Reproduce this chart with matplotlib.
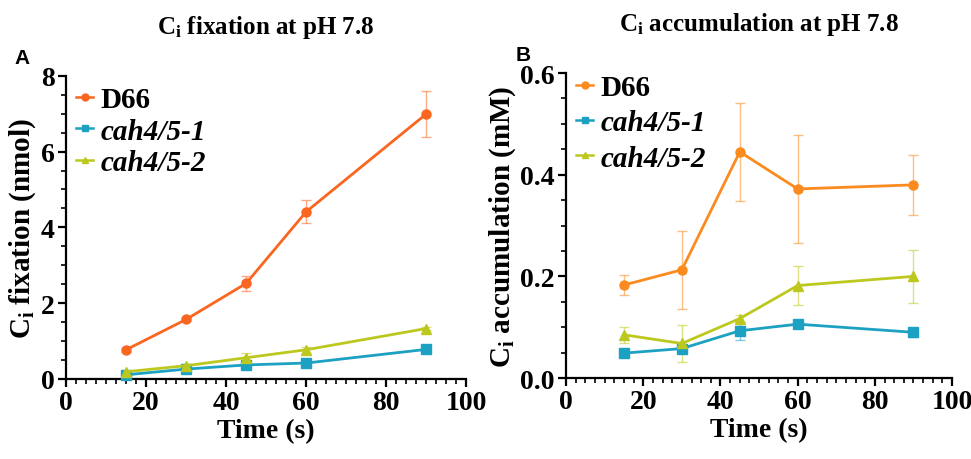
import matplotlib
matplotlib.use('Agg')
import matplotlib.pyplot as plt
from matplotlib.ticker import MultipleLocator
from matplotlib.lines import Line2D

plt.rcParams['font.family'] = 'Liberation Serif'
plt.rcParams['font.weight'] = 'bold'
plt.rcParams['mathtext.fontset'] = 'custom'
plt.rcParams['mathtext.rm'] = 'Liberation Serif:bold'
plt.rcParams['mathtext.it'] = 'Liberation Serif:bold'
plt.rcParams['mathtext.bf'] = 'Liberation Serif:bold'

# ── data ─────────────────────────────────────────────────────────────────────
time_s = [15, 30, 45, 60, 90]
series_names = ['D66', 'cah4/5-1', 'cah4/5-2']

# panel A: Ci fixation (nmol)
fix_d66 = [0.77, 1.57, 2.52, 4.41, 6.99]
fix_d66_err = [0.05, 0.05, 0.2, 0.3, 0.6]
fix_c1 = [0.11, 0.26, 0.37, 0.42, 0.78]
fix_c1_err = [0.05, 0.04, 0.05, 0.04, 0.05]
fix_c2 = [0.19, 0.35, 0.56, 0.77, 1.33]
fix_c2_err = [0.03, 0.04, 0.12, 0.08, 0.03]

# panel B: Ci accumulation (mM)
acc_d66 = [0.183, 0.213, 0.445, 0.372, 0.380]
acc_d66_err = [0.020, 0.077, 0.096, 0.107, 0.059]
acc_c1 = [0.049, 0.058, 0.093, 0.106, 0.090]
acc_c1_err = [0.004, 0.006, 0.018, 0.008, 0.009]
acc_c2 = [0.085, 0.068, 0.117, 0.182, 0.200]
acc_c2_err = [0.016, 0.036, 0.007, 0.038, 0.052]

colors_A = ['#FA6620', '#1DA1C2', '#BDC81E']
colors_B = ['#FB8B1E', '#1DA1C2', '#BDC81E']
markers = ['o', 's', '^']

fig = plt.figure(figsize=(9.71, 4.6), dpi=100)
axA = fig.add_axes([0.068, 0.174, 0.412, 0.659])
axB = fig.add_axes([0.583, 0.176, 0.3975, 0.663])


def draw(ax, ys, errs, colors, ymax, ymajor, yminor, ylabel, title, letter,
         ytick_fmt, leg_y, leg_space):
    for y, e, c, m in zip(ys, errs, colors, markers):
        ax.errorbar(time_s, y, yerr=e, fmt='none', ecolor=c, alpha=0.55,
                    elinewidth=1.0, capsize=3.5, capthick=1.0, zorder=2)
        ax.plot(time_s, y, color=c, marker=m, markersize=6.5, lw=2,
                zorder=3, clip_on=False)
    ax.set_xlim(0, 100)
    ax.set_ylim(0, ymax)
    ax.xaxis.set_major_locator(MultipleLocator(20))
    ax.xaxis.set_minor_locator(MultipleLocator(2.5))
    ax.yaxis.set_major_locator(MultipleLocator(ymajor))
    ax.yaxis.set_minor_locator(MultipleLocator(yminor))
    ax.yaxis.set_major_formatter(ytick_fmt)
    for s in ['top', 'right']:
        ax.spines[s].set_visible(False)
    for s in ['left', 'bottom']:
        ax.spines[s].set_linewidth(1.6)
    ax.tick_params(which='major', length=6, width=1.6, labelsize=20, pad=2)
    ax.tick_params(which='minor', length=3.5, width=1.2)
    ax.set_xlabel('Time (s)', fontsize=20, fontweight='bold', labelpad=2)
    ax.set_ylabel(ylabel, fontsize=21, fontweight='bold', labelpad=2)
    ax.set_title(title, fontsize=18, fontweight='bold', pad=31)
    ax.text(-0.13, 1.03, letter, transform=ax.transAxes, fontsize=15,
            fontweight='bold', family='Liberation Sans', ha='left', va='bottom')
    handles = [Line2D([], [], color=c, marker=m, markersize=5, lw=1.8)
               for c, m in zip(colors, markers)]
    leg = ax.legend(handles, series_names, loc='upper left', frameon=False,
                    fontsize=21, handlelength=0.6, handletextpad=0.25,
                    labelspacing=leg_space, borderaxespad=0.0, borderpad=0.2,
                    bbox_to_anchor=(0.01, leg_y))
    for t in leg.get_texts()[1:]:
        t.set_style('italic')


draw(axA, [fix_d66, fix_c1, fix_c2], [fix_d66_err, fix_c1_err, fix_c2_err],
     colors_A, 8, 2, 0.5, r'$\mathregular{C_i}$ fixation (nmol)',
     r'$\mathregular{C_i}$ fixation at pH 7.8', 'A', '{x:.0f}', 0.985, 0.15)
draw(axB, [acc_d66, acc_c1, acc_c2], [acc_d66_err, acc_c1_err, acc_c2_err],
     colors_B, 0.6, 0.2, 0.05, r'$\mathregular{C_i}$ accumulation (mM)',
     r'$\mathregular{C_i}$ accumulation at pH 7.8', 'B', '{x:.1f}', 1.015, 0.28)

fig.savefig('out.png', dpi=100)
